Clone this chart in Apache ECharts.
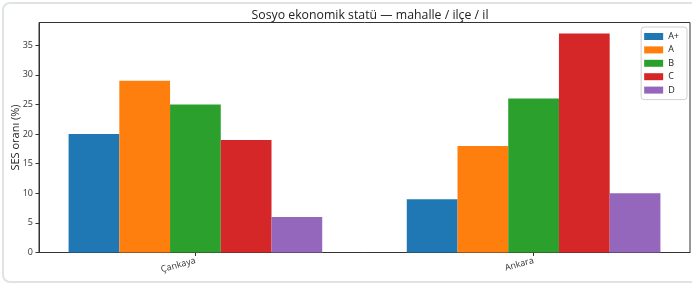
<!DOCTYPE html>
<html>
<head>
<meta charset="utf-8">
<script src="https://cdn.jsdelivr.net/npm/echarts@6/dist/echarts.min.js"></script>
<style>
html,body{margin:0;padding:0;background:#fff;}
#card{position:absolute;left:2px;top:2px;width:720px;height:281px;box-sizing:border-box;border:2px solid #dfe3e6;border-radius:8px;}
#chart{position:absolute;left:0;top:0;width:692px;height:288px;}
</style>
</head>
<body>
<div id="card"></div>
<div id="chart"></div>
<script>
const categories = ['Çankaya', 'Ankara'];
const seriesNames = ['A+', 'A', 'B', 'C', 'D'];
const seriesColors = ['#1f77b4', '#ff7f0e', '#2ca02c', '#d62728', '#9467bd'];
const valuesAplus = [20, 9];
const valuesA = [29, 18];
const valuesB = [25, 26];
const valuesC = [19, 37];
const valuesD = [6, 10];
const yTicks = [0, 5, 10, 15, 20, 25, 30, 35];

const seriesValues = [valuesAplus, valuesA, valuesB, valuesC, valuesD];
const barW = 0.15;
const font = '"Open Sans", "Noto Sans", sans-serif';

const chart = echarts.init(document.getElementById('chart'), null, {renderer: 'canvas'});

const series = seriesNames.map((name, i) => ({
  type: 'custom',
  name: name,
  itemStyle: {color: seriesColors[i]},
  renderItem: function (params, api) {
    const x = api.value(0), y = api.value(1);
    const p0 = api.coord([x - barW / 2, y]);
    const p1 = api.coord([x + barW / 2, 0]);
    return {
      type: 'rect',
      shape: {x: p0[0], y: p0[1], width: p1[0] - p0[0], height: p1[1] - p0[1]},
      style: {fill: api.visual('color')}
    };
  },
  encode: {x: 0, y: 1},
  data: seriesValues[i].map((v, c) => [c + (i - 2) * barW, v])
}));

chart.setOption({
  animation: false,
  backgroundColor: 'transparent',
  title: {
    text: 'Sosyo ekonomik statü — mahalle / ilçe / il',
    left: 365, top: 4, textAlign: 'center',
    textStyle: {fontFamily: font, fontSize: 12.3, fontWeight: 'normal', color: '#222'}
  },
  legend: {
    orient: 'vertical',
    right: 5, top: 27,
    itemWidth: 19, itemHeight: 7, itemGap: 4.4,
    icon: 'rect',
    padding: [5, 8, 5, 3],
    borderColor: '#d0d0d0', borderWidth: 1, borderRadius: 3,
    backgroundColor: '#fff',
    textStyle: {fontFamily: font, fontSize: 9, color: '#222'},
    data: seriesNames
  },
  grid: {
    left: 39, right: 2, top: 22.5, bottom: 35.5,
    outerBoundsMode: 'none',
    containLabel: false,
    show: true, borderColor: '#333', borderWidth: 1, backgroundColor: 'transparent'
  },
  xAxis: {
    type: 'value',
    min: -0.4625, max: 1.4625,
    splitLine: {show: false},
    axisLine: {show: true, onZero: false, lineStyle: {color: '#333'}},
    axisTick: {show: true, length: 3.5, customValues: [0, 1], lineStyle: {color: '#333'}},
    axisLabel: {
      customValues: [0, 1], rotate: 15, margin: 8,
      fontFamily: font, fontSize: 9, color: '#333',
      formatter: function (v) { return categories[Math.round(v)] || ''; }
    }
  },
  yAxis: {
    type: 'value',
    min: 0, max: 38.85,
    name: 'SES oranı (%)',
    nameLocation: 'middle', nameGap: 18, nameRotate: 90,
    nameMoveOverlap: false,
    nameTextStyle: {fontFamily: font, fontSize: 11, color: '#222'},
    splitLine: {show: false},
    axisLine: {show: true, onZero: false, lineStyle: {color: '#333'}},
    axisTick: {show: true, length: 3.5, customValues: yTicks, lineStyle: {color: '#333'}},
    axisLabel: {customValues: yTicks, margin: 6, fontFamily: font, fontSize: 9, color: '#333'}
  },
  series: series
});
</script>
</body>
</html>
